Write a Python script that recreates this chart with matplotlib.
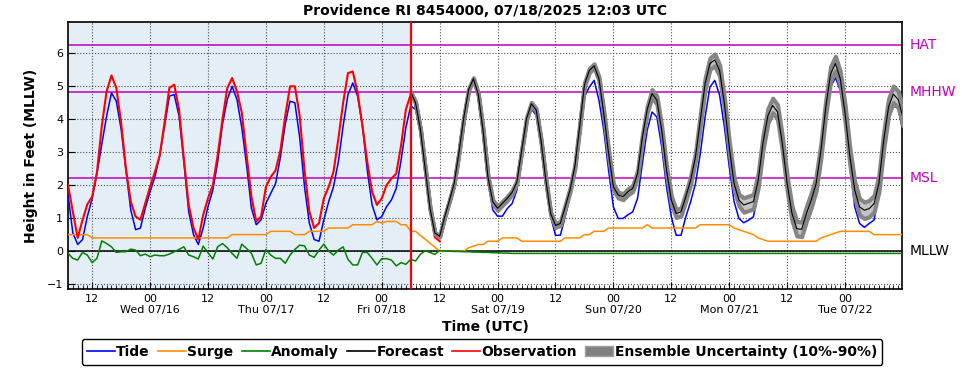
import pandas as pd
import matplotlib
matplotlib.use('Agg')
import matplotlib.pyplot as plt
import matplotlib.dates as mdates
from matplotlib.lines import Line2D
from matplotlib.patches import Patch

# Hourly series starting 07/15/2025 07:00 UTC
start = '2025-07-15 07:00'

tide = [1.70, 0.55, 0.20, 0.35, 1.05, 1.60, 2.35, 3.25, 4.10, 4.80, 4.55, 3.70,
        2.45, 1.25, 0.65, 0.70, 1.30, 1.80, 2.25, 2.90, 3.80, 4.70, 4.75, 4.10,
        2.70, 1.20, 0.50, 0.20, 0.70, 1.35, 1.85, 2.70, 3.85, 4.60, 5.00, 4.60,
        3.75, 2.60, 1.30, 0.80, 0.95, 1.45, 1.75, 2.05, 2.85, 3.85, 4.55, 4.50,
        3.45, 1.95, 0.85, 0.35, 0.30, 0.95, 1.50, 1.95, 2.70, 3.80, 4.75, 5.10,
        4.70, 3.80, 2.45, 1.40, 0.95, 1.05, 1.35, 1.55, 1.90, 2.75, 3.75, 4.40,
        4.30, 3.55, 2.35, 1.20, 0.48, 0.40, 0.98, 1.48, 2.00, 2.95, 3.95, 4.82,
        5.15, 4.65, 3.50, 2.10, 1.25, 1.06, 1.06, 1.29, 1.44, 1.85, 2.96, 3.97,
        4.32, 4.12, 3.16, 1.95, 1.04, 0.48, 0.48, 1.04, 1.65, 2.35, 3.57, 4.68,
        4.98, 5.18, 4.58, 3.67, 2.45, 1.34, 0.99, 0.99, 1.10, 1.19, 1.60, 2.66,
        3.67, 4.22, 4.07, 3.16, 1.95, 1.04, 0.48, 0.48, 1.04, 1.50, 2.05, 2.96,
        4.07, 4.98, 5.18, 4.73, 3.77, 2.56, 1.50, 0.99, 0.86, 0.94, 1.04, 1.75,
        2.80, 3.80, 4.22, 4.07, 3.06, 1.85, 0.94, 0.48, 0.54, 0.94, 1.34, 1.95,
        2.96, 4.17, 4.98, 5.26, 4.88, 3.97, 2.56, 1.34, 0.84, 0.72, 0.84, 0.94,
        1.75, 3.06, 4.07, 4.39, 4.35, 3.60]

observation = [2.00, 1.19, 0.40, 0.94, 1.42, 1.65, 2.40, 3.80, 4.85, 5.33, 4.95, 3.90,
               2.50, 1.50, 1.05, 0.95, 1.45, 1.95, 2.40, 2.90, 3.90, 4.95, 5.05, 4.30,
               2.80, 1.40, 0.70, 0.35, 1.10, 1.60, 2.00, 2.90, 4.00, 4.95, 5.25, 4.85,
               4.20, 2.90, 1.65, 0.90, 1.05, 1.95, 2.25, 2.45, 3.05, 4.10, 5.00, 5.00,
               4.10, 2.45, 1.20, 0.70, 0.85, 1.60, 1.95, 2.40, 3.40, 4.50, 5.40, 5.45,
               4.80, 3.80, 2.70, 1.80, 1.40, 1.60, 2.00, 2.20, 2.35, 3.20, 4.30, 4.75,
               4.45, 3.65, 2.45, 1.25, 0.42, 0.30]

surge = [0.5, 0.5, 0.5, 0.5, 0.5, 0.4, 0.4, 0.4, 0.4, 0.4, 0.4, 0.4,
         0.4, 0.4, 0.4, 0.4, 0.4, 0.4, 0.4, 0.4, 0.4, 0.4, 0.4, 0.4,
         0.4, 0.4, 0.4, 0.4, 0.4, 0.4, 0.4, 0.4, 0.4, 0.4, 0.5, 0.5,
         0.5, 0.5, 0.5, 0.5, 0.5, 0.5, 0.6, 0.6, 0.6, 0.6, 0.6, 0.5,
         0.5, 0.5, 0.6, 0.6, 0.6, 0.6, 0.7, 0.7, 0.7, 0.7, 0.7, 0.8,
         0.8, 0.8, 0.8, 0.8, 0.9, 0.85, 0.9, 0.9, 0.9, 0.8, 0.8, 0.6,
         0.6, 0.48, 0.36, 0.24, 0.12, 0.0, 0.0, 0.0, 0.0, 0.0, 0.0, 0.1,
         0.15, 0.2, 0.2, 0.3, 0.3, 0.3, 0.4, 0.4, 0.4, 0.4, 0.3, 0.3,
         0.3, 0.3, 0.3, 0.3, 0.3, 0.3, 0.3, 0.4, 0.4, 0.4, 0.4, 0.5,
         0.5, 0.6, 0.6, 0.6, 0.7, 0.7, 0.7, 0.7, 0.7, 0.7, 0.7, 0.7,
         0.8, 0.7, 0.7, 0.7, 0.7, 0.7, 0.7, 0.7, 0.7, 0.7, 0.7, 0.8,
         0.8, 0.8, 0.8, 0.8, 0.8, 0.8, 0.7, 0.65, 0.6, 0.55, 0.5, 0.4,
         0.35, 0.3, 0.3, 0.3, 0.3, 0.3, 0.3, 0.3, 0.3, 0.3, 0.3, 0.3,
         0.4, 0.45, 0.5, 0.55, 0.6, 0.6, 0.6, 0.6, 0.6, 0.6, 0.6, 0.5,
         0.5, 0.5, 0.5, 0.5, 0.5, 0.5]

anomaly = [-0.07, -0.22, -0.27, -0.04, -0.12, -0.35, -0.22, 0.31, 0.23, 0.13, -0.04, -0.02,
           -0.02, 0.06, 0.03, -0.14, -0.09, -0.17, -0.12, -0.14, -0.14, -0.09, -0.02, 0.05,
           0.13, -0.12, -0.17, -0.24, 0.15, -0.05, -0.24, 0.13, 0.23, 0.10, -0.07, -0.22,
           0.21, 0.08, -0.07, -0.42, -0.37, 0.05, -0.12, -0.22, -0.22, -0.37, -0.12, 0.05,
           0.18, 0.16, -0.12, -0.19, 0.03, 0.21, 0.00, -0.12, 0.03, 0.13, -0.25, -0.42,
           -0.42, -0.04, -0.04, -0.22, -0.42, -0.23, -0.23, -0.27, -0.45, -0.35, -0.40, -0.25,
           -0.30, -0.10, 0.01, -0.04, -0.10, 0.02, 0.00, 0.00, -0.01, -0.01, -0.02, -0.02,
           -0.03, -0.03, -0.04, -0.04, -0.05, -0.05, -0.06, -0.06, -0.07, -0.07, -0.07, -0.07,
           -0.07, -0.07, -0.07, -0.07, -0.07, -0.07, -0.07, -0.07, -0.07, -0.07, -0.07, -0.07,
           -0.07, -0.07, -0.07, -0.07, -0.07, -0.07, -0.07, -0.07, -0.07, -0.07, -0.07, -0.07,
           -0.07, -0.07, -0.07, -0.07, -0.07, -0.07, -0.07, -0.07, -0.07, -0.07, -0.07, -0.07,
           -0.07, -0.07, -0.07, -0.07, -0.07, -0.07, -0.07, -0.07, -0.07, -0.07, -0.07, -0.07,
           -0.07, -0.07, -0.07, -0.07, -0.07, -0.07, -0.07, -0.07, -0.07, -0.07, -0.07, -0.07,
           -0.07, -0.07, -0.07, -0.07, -0.07, -0.07, -0.07, -0.07, -0.07, -0.07, -0.07, -0.07,
           -0.07, -0.07, -0.07, -0.07, -0.07, -0.07]

# Forecast and ensemble band start at 07/18 06:00
forecast = [4.82,
            4.50, 3.70, 2.50, 1.30, 0.55, 0.45, 1.02, 1.52, 2.05, 3.00, 4.05, 4.90,
            5.23, 4.75, 3.65, 2.25, 1.50, 1.30, 1.45, 1.60, 1.78, 2.10, 3.06, 4.02,
            4.47, 4.28, 3.36, 2.15, 1.14, 0.78, 0.84, 1.34, 1.85, 2.56, 3.77, 5.05,
            5.48, 5.62, 5.23, 4.17, 2.96, 1.95, 1.70, 1.65, 1.80, 1.90, 2.35, 3.45,
            4.30, 4.78, 4.58, 3.67, 2.45, 1.55, 1.14, 1.19, 1.65, 2.15, 2.86, 3.97,
            5.08, 5.69, 5.80, 5.48, 4.47, 3.16, 2.05, 1.55, 1.40, 1.45, 1.50, 2.15,
            3.30, 4.10, 4.42, 4.22, 3.26, 2.05, 1.14, 0.68, 0.66, 1.14, 1.55, 2.05,
            3.06, 4.37, 5.38, 5.69, 5.23, 4.17, 2.86, 1.85, 1.34, 1.24, 1.29, 1.44,
            2.05, 3.36, 4.37, 4.76, 4.60, 4.05]

ens_lo = [4.80,
          4.48, 3.68, 2.48, 1.28, 0.53, 0.43, 1.00, 1.50, 2.03, 2.97, 4.02, 4.87,
          5.20, 4.72, 3.62, 2.22, 1.44, 1.24, 1.39, 1.54, 1.72, 2.06, 3.02, 3.98,
          4.43, 4.24, 3.32, 2.11, 1.10, 0.72, 0.78, 1.28, 1.79, 2.50, 3.71, 4.99,
          5.42, 5.56, 5.17, 4.08, 2.87, 1.86, 1.61, 1.56, 1.71, 1.81, 2.26, 3.36,
          4.21, 4.66, 4.46, 3.55, 2.33, 1.43, 1.02, 1.07, 1.53, 2.03, 2.74, 3.80,
          4.91, 5.52, 5.62, 5.31, 4.30, 2.99, 1.88, 1.38, 1.18, 1.23, 1.28, 1.93,
          3.08, 3.88, 4.20, 4.00, 3.04, 1.83, 0.92, 0.46, 0.44, 0.92, 1.33, 1.83,
          2.84, 4.15, 5.16, 5.47, 5.01, 3.92, 2.61, 1.60, 1.09, 0.99, 1.04, 1.19,
          1.80, 3.11, 4.12, 4.51, 4.35, 3.80]

ens_hi = [4.84,
          4.52, 3.72, 2.52, 1.32, 0.57, 0.47, 1.04, 1.54, 2.07, 3.03, 4.08, 4.93,
          5.26, 4.78, 3.68, 2.28, 1.56, 1.36, 1.51, 1.66, 1.84, 2.14, 3.10, 4.06,
          4.51, 4.32, 3.40, 2.19, 1.18, 0.84, 0.90, 1.40, 1.91, 2.62, 3.83, 5.11,
          5.54, 5.68, 5.29, 4.26, 3.05, 2.04, 1.79, 1.74, 1.89, 1.99, 2.44, 3.54,
          4.39, 4.90, 4.70, 3.79, 2.57, 1.67, 1.26, 1.31, 1.77, 2.27, 2.98, 4.14,
          5.25, 5.86, 5.98, 5.65, 4.64, 3.33, 2.22, 1.72, 1.62, 1.67, 1.72, 2.37,
          3.52, 4.32, 4.64, 4.44, 3.48, 2.27, 1.36, 0.90, 0.88, 1.36, 1.77, 2.27,
          3.28, 4.59, 5.60, 5.91, 5.45, 4.42, 3.11, 2.10, 1.59, 1.49, 1.54, 1.69,
          2.30, 3.61, 4.62, 5.01, 4.85, 4.30]

datums = {'HAT': 6.26, 'MHHW': 4.84, 'MSL': 2.23, 'MLLW': 0.0}
magenta = '#c000c0'

times = pd.date_range(start, periods=len(tide), freq='h')
t_obs = times[:len(observation)]
t_fc = times[len(times) - len(forecast):]

fig = plt.figure(figsize=(9.69, 3.70), dpi=100)
ax = fig.add_axes([0.0702, 0.2189, 0.8607, 0.7216])

ax.axvspan(times[0], t_fc[0], color='#e4eef6', zorder=0)
for name, val in datums.items():
    col = 'black' if name == 'MLLW' else magenta
    ax.axhline(val, color=col, lw=1.1, zorder=2)
    ax.text(1.009, val, name, transform=ax.get_yaxis_transform(),
            color=col, fontsize=10, va='center', ha='left')

ax.plot(times, tide, color='blue', lw=1.1, zorder=3)
ax.plot(times, surge, color='darkorange', lw=1.1, zorder=3)
ax.plot(times, anomaly, color='green', lw=1.1, zorder=3)
ax.plot(t_obs, observation, color='red', lw=1.5, zorder=4)
ax.fill_between(t_fc, ens_lo, ens_hi, facecolor='#c4c4c4', edgecolor='#858585',
                linewidth=3.0, zorder=5)
ax.plot(t_fc, forecast, color='black', lw=0.8, zorder=6)
ax.axvline(t_fc[0], color='red', lw=1.6, zorder=7)

ax.set_xlim(times[0], times[-1] - pd.Timedelta(minutes=12))
ax.set_ylim(-1.15, 6.95)
ax.set_yticks(range(-1, 7))

ax.xaxis.set_major_locator(mdates.HourLocator(byhour=[0, 12]))
ax.xaxis.set_minor_locator(mdates.HourLocator())


def fmt(x, pos):
    d = mdates.num2date(x)
    if d.hour == 0:
        return d.strftime('00\n%a %m/%d')
    return d.strftime('%H')


ax.xaxis.set_major_formatter(plt.FuncFormatter(fmt))
ax.tick_params(axis='both', which='major', direction='in', labelsize=8, length=5)
ax.tick_params(axis='x', which='minor', direction='in', length=3)
ax.grid(True, which='major', linestyle=':', color='0.3', lw=0.8)
for spine in ax.spines.values():
    spine.set_linewidth(1.2)

ax.set_title('Providence RI 8454000, 07/18/2025 12:03 UTC', fontsize=10,
             fontweight='bold', pad=5)
ax.set_ylabel('Height in Feet (MLLW)', fontsize=10, fontweight='bold', labelpad=6)
ax.set_xlabel('Time (UTC)', fontsize=10, fontweight='bold', labelpad=3)

handles = [Line2D([], [], color='blue', lw=1.2),
           Line2D([], [], color='darkorange', lw=1.2),
           Line2D([], [], color='green', lw=1.2),
           Line2D([], [], color='black', lw=1.2),
           Line2D([], [], color='red', lw=1.2),
           Patch(facecolor='gray', edgecolor='#a0a0a0')]
labels = ['Tide', 'Surge', 'Anomaly', 'Forecast', 'Observation',
          'Ensemble Uncertainty (10%-90%)']
leg = fig.legend(handles, labels, loc='center', bbox_to_anchor=(0.4974, 0.0486),
                 ncol=6, prop={'weight': 'bold', 'size': 10}, handlelength=2.0,
                 handletextpad=0.1, columnspacing=0.6, borderpad=0.4,
                 fancybox=True, framealpha=1)
leg.get_frame().set_edgecolor('black')
leg.get_frame().set_linewidth(1.0)

fig.savefig('out.png', dpi=100)
